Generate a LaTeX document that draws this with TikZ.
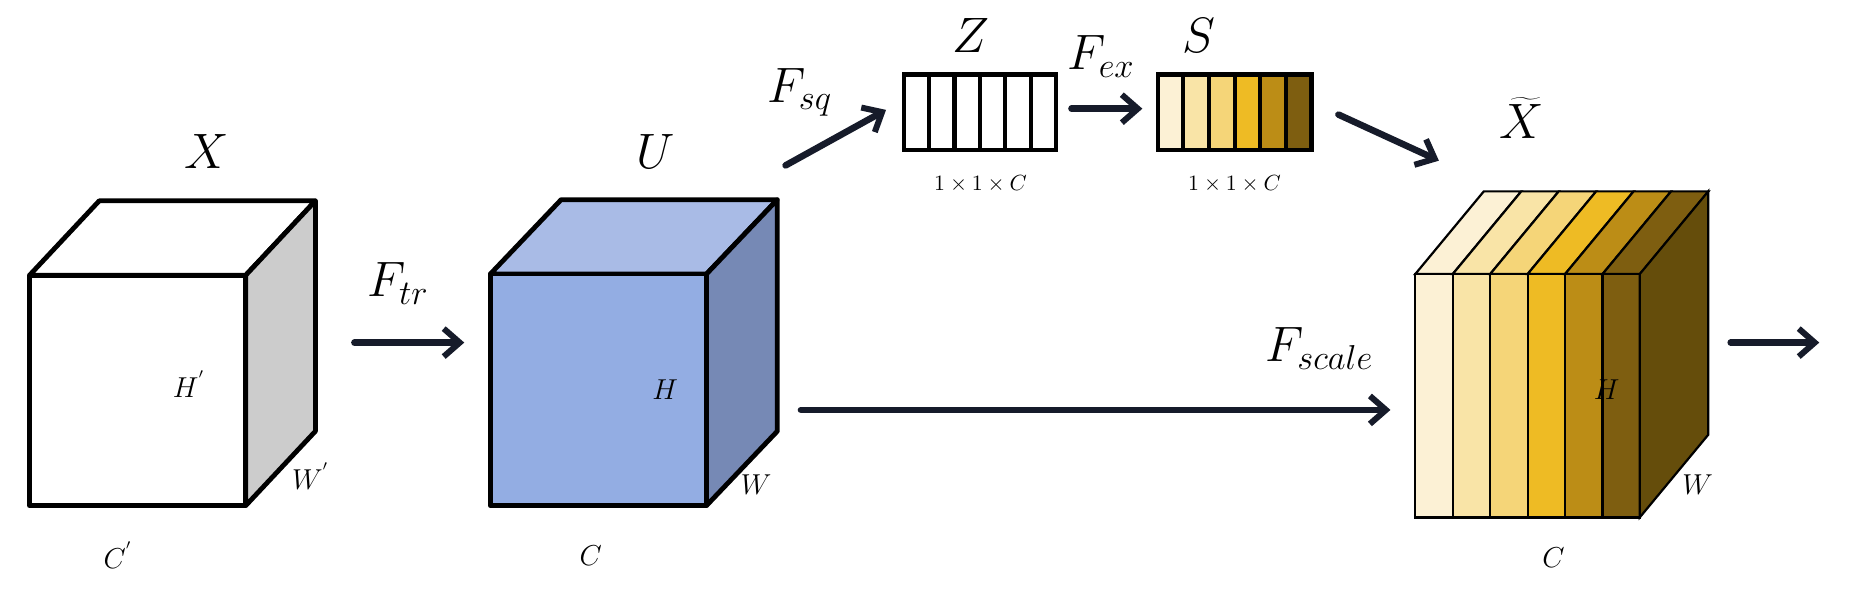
\documentclass[tikz,border=0pt]{standalone}
\usetikzlibrary{arrows.meta}
\definecolor{ink}{HTML}{161B2A}
\definecolor{y1}{HTML}{FCF1D5}\definecolor{y2}{HTML}{F9E4A7}\definecolor{y3}{HTML}{F5D578}
\definecolor{y4}{HTML}{EEBB24}\definecolor{y5}{HTML}{BC8D16}\definecolor{y6}{HTML}{7E5E10}
\definecolor{y7}{HTML}{654D0B}
\definecolor{uf}{HTML}{93ADE3}\definecolor{ut}{HTML}{A9BBE6}\definecolor{ur}{HTML}{7689B5}
\begin{document}
\begin{tikzpicture}[x=0.5907pt,y=-0.5907pt,
  arr/.style={-{Straight Barb[length=8pt,width=14pt,line width=3pt]},line width=3.3pt,ink,line cap=round},
  cube/.style={line width=2.4pt,black,line join=round},
  big/.style={font=\fontsize{26}{28}\selectfont},
  lab/.style={font=\fontsize{15}{17}\selectfont},
  dim/.style={font=\fontsize{11}{13}\selectfont}]
\useasboundingbox (0,0) rectangle (1566,504);
% cube X
\draw[cube,fill=white] (25,233) -- (84,170) -- (267,170) -- (208,233) -- cycle;
\draw[cube,fill=black!20] (208,233) -- (267,170) -- (267,365) -- (208,428) -- cycle;
\draw[cube,fill=white] (25,233) rectangle (208,428);
\node[big] (lx) at (175,128) {$X$};
\node[lab] (hx) at (160,325) {$H^{'}$};
\node[lab] (wx) at (263,403) {$W^{'}$};
\node[lab] (cx) at (100,470) {$C^{'}$};
% cube U
\draw[cube,fill=ut] (415,232) -- (475,169) -- (658,169) -- (598,232) -- cycle;
\draw[cube,fill=ur] (598,232) -- (658,169) -- (658,365) -- (598,428) -- cycle;
\draw[cube,fill=uf] (415,232) rectangle (598,428);
\node[big] (lu) at (555,128) {$U$};
\node[lab] (hu) at (563,330) {$H$};
\node[lab] (wu) at (640,410) {$W$};
\node[lab] (cu) at (500,470) {$C$};
% Ftr
\coordinate (a1) at (300,290); \coordinate (a2) at (393,290);
\draw[arr] (a1) -- (a2);
\node[big] (ftr) at (337,240) {$F_{tr}$};
% Z vector
\foreach \i in {0,...,5}{\draw[line width=2.1pt,fill=white] ({765+\i*21.5},63) rectangle ({765+(\i+1)*21.5},127);}
\node[big] (lz) at (822,30) {$Z$};
\node[dim] (dz) at (830,156) {$1\times1\times C$};
\coordinate (b1) at (665,140); \coordinate (b2) at (750,93);
\draw[arr] (b1) -- (b2);
\node[big] (fsq) at (677,78) {$F_{sq}$};
% S vector
\foreach \i/\c in {0/y1,1/y2,2/y3,3/y4,4/y5,5/y6}{\draw[line width=2.1pt,fill=\c] ({980+\i*21.7},63) rectangle ({980+(\i+1)*21.7},127);}
\node[big] (ls) at (1015,30) {$S$};
\node[dim] (ds) at (1045,156) {$1\times1\times C$};
\coordinate (c1) at (907,92); \coordinate (c2) at (967,92);
\draw[arr] (c1) -- (c2);
\node[big] (fex) at (932,48) {$F_{ex}$};
\coordinate (d1) at (1133,97); \coordinate (d2) at (1218,136);
\draw[arr] (d1) -- (d2);
% Xtilde cube
\def\w{31.7}
\foreach \i/\c in {0/y1,1/y2,2/y3,3/y4,4/y5,5/y6}{
  \draw[line width=1.1pt,fill=\c] ({1198+\i*\w},232) -- ({1256+\i*\w},162) -- ({1256+(\i+1)*\w},162) -- ({1198+(\i+1)*\w},232) -- cycle;
  \draw[line width=1.1pt,fill=\c] ({1198+\i*\w},232) rectangle ({1198+(\i+1)*\w},438);}
\draw[line width=1.1pt,fill=y7] (1388,232) -- (1446,162) -- (1446,368) -- (1388,438) -- cycle;
\node[big] (lxt) at (1288,100) {$\widetilde{X}$};
\node[lab] (hxt) at (1360,330) {$H$};
\node[lab] (wxt) at (1437,410) {$W$};
\node[lab] (cxt) at (1315,472) {$C$};
\coordinate (e1) at (678,347); \coordinate (e2) at (1177,347);
\draw[arr] (e1) -- (e2);
\node[big] (fsc) at (1117,295) {$F_{scale}$};
\coordinate (f1) at (1465,290); \coordinate (f2) at (1540,290);
\draw[arr] (f1) -- (f2);
\end{tikzpicture}
\end{document}
